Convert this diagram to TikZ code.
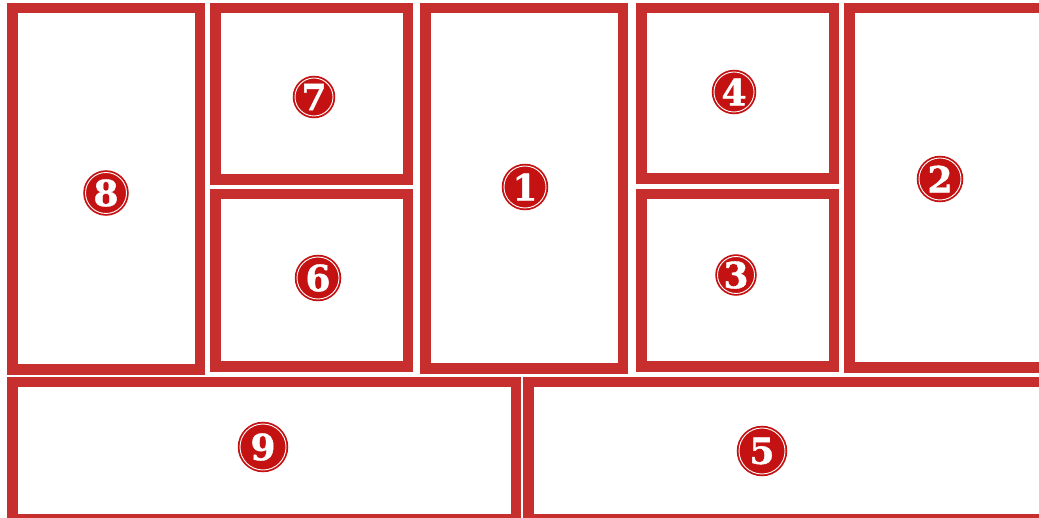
\documentclass[tikz,border=0pt]{standalone}
\usepackage{fontspec}
\newfontfamily\badgefont{DejaVu Serif}[BoldFeatures={FakeBold=1.2}]
\usetikzlibrary{math}
\definecolor{framered}{RGB}{199,46,46}
\definecolor{badgered}{RGB}{196,18,18}
\tikzset{
  panel/.style={draw=framered, line width=10.5pt, fill=white},
  badge/.style={circle, inner sep=0pt, minimum size=#1, fill=badgered,
    draw=badgered, double=white, double distance=0.9pt, line width=1.8pt,
    text=white, font=\badgefont\bfseries\fontsize{36}{36}\selectfont},
}
\begin{document}
\begin{tikzpicture}[x=1pt,y=-1pt]
\tikzmath{
\bw=10.5;
}
\useasboundingbox (0,0) rectangle (1039,518);
\clip (0,0) rectangle (1039,518);
\fill[white] (0,0) rectangle (1039,518);
 %panels, outer corners
 \foreach \xa/\ya/\xb/\yb in {7/3/205/375, 210/3/413/185, 210/189/413/372,
   420/3/628/374, 636/3/839/184, 636/189/839/372, 844/3/1050/373,
   7/377/521/524, 523/377/1050/524}{
   \draw[panel] (\xa+\bw/2,\ya+\bw/2) rectangle (\xb-\bw/2,\yb-\bw/2);
 }
 %numbers
 \foreach \n/\x/\y/\s in {8/106/193/41, 7/314/97/38, 6/318/278/42, 1/525/187/42,
   4/734/92/40, 3/736/275/37, 2/940/179/42, 9/263/447/46, 5/762/451/46}{
   \node[badge=\s] (num\n) at (\x,\y) {\n};
 }
\end{tikzpicture}
\end{document}
